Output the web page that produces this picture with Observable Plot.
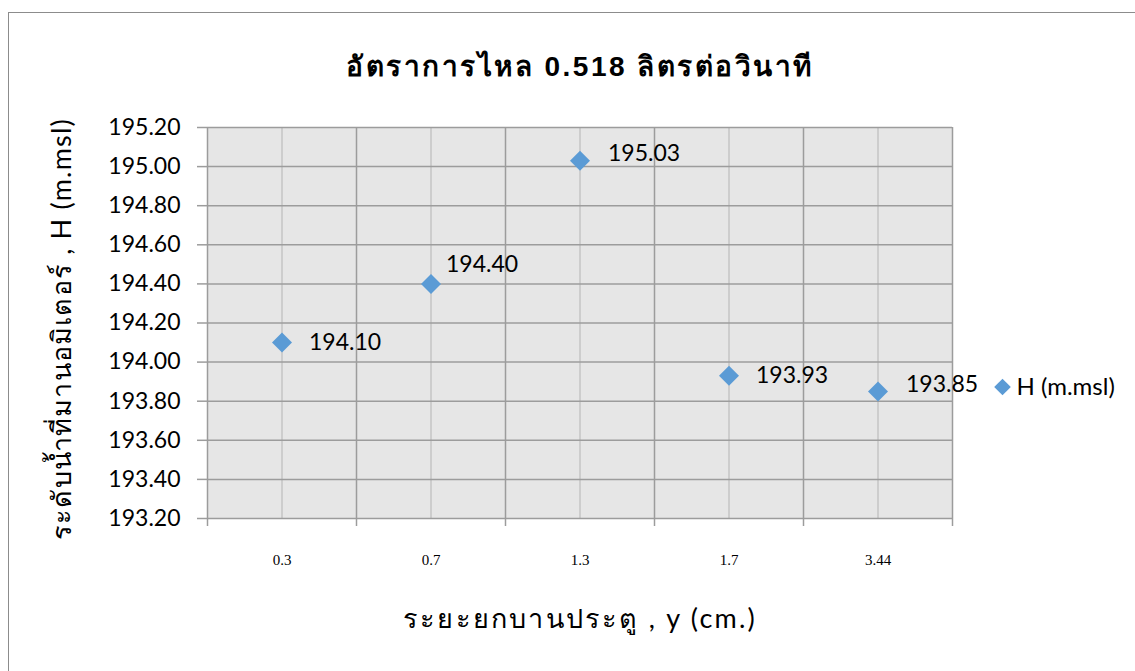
<!DOCTYPE html>
<html><head><meta charset="utf-8">
<script src="https://cdn.jsdelivr.net/npm/d3@7"></script>
<script src="https://cdn.jsdelivr.net/npm/@observablehq/plot@0.6"></script>
<style>
body{margin:0;background:#fff;}
#wrap{position:relative;width:1135px;height:671px;overflow:hidden;}
#frame{position:absolute;left:8px;top:12px;width:1200px;height:700px;border-top:1px solid #8c8c8c;border-left:1px solid #8c8c8c;pointer-events:none;}
#chart{position:absolute;left:0;top:0;}
</style></head>
<body><div id="wrap"><div id="chart"></div><div id="frame"></div></div>
<script>
const categories = ["0.3", "0.7", "1.3", "1.7", "3.44"];
const values = [194.10, 194.40, 195.03, 193.93, 193.85];
const yTicks = [193.2, 193.4, 193.6, 193.8, 194.0, 194.2, 194.4, 194.6, 194.8, 195.0, 195.2];
const titleText = "อัตราการไหล 0.518 ลิตรต่อวินาที";
const xLabel = "ระยะยกบานประตู , y (cm.)";
const yLabel = "ระดับน้ำที่มานอมิเตอร์ , H (m.msl)";
const seriesName = "H (m.msl)";

const rows = categories.map((c, i) => ({cat: c, pos: i + 0.5, value: values[i], label: values[i].toFixed(2)}));
const bounds = d3.range(categories.length + 1);
const centers = rows.map(d => d.pos);
const blue = "#5b9bd5";
const latin = "Lato, 'Open Sans', sans-serif";

const labelText = (filter, dx, dy) => Plot.text(rows.filter(filter), {x: "pos", y: "value", text: "label",
  textAnchor: "start", lineAnchor: "middle", dx, dy, fontSize: 23, fontFamily: latin});

const chart = Plot.plot({
  width: 1135,
  height: 671,
  marginLeft: 207,
  marginRight: 183,
  marginTop: 127,
  marginBottom: 153,
  style: {background: "transparent", color: "#000"},
  x: {type: "linear", domain: [0, categories.length]},
  y: {domain: [193.2, 195.2]},
  marks: [
    Plot.frame({fill: "#e6e6e6", stroke: null}),
    Plot.ruleX(centers, {stroke: "#c4c4c4", strokeWidth: 1.5}),
    Plot.ruleY(yTicks, {stroke: "#9c9c9c", strokeWidth: 1.5}),
    Plot.ruleX(bounds, {stroke: "#9c9c9c", strokeWidth: 1.5}),
    Plot.axisY({ticks: yTicks, tickFormat: d => d.toFixed(2), tickSize: 10, tickPadding: 17,
      stroke: "#9c9c9c", strokeWidth: 1.5, fontSize: 23, fontFamily: latin, label: null}),
    Plot.axisX({ticks: bounds, tickSize: 8, text: null, stroke: "#9c9c9c", strokeWidth: 1.5, label: null}),
    Plot.axisX({ticks: centers, tickSize: 0, tickPadding: 36, tickFormat: p => categories[Math.floor(p)],
      fontFamily: "'Liberation Serif', serif", fontSize: 15, label: null}),
    Plot.dot(rows, {x: "pos", y: "value", symbol: "diamond2", r: 9, fill: blue, stroke: null}),
    labelText((d, i) => i === 0 || i === 3, 27, 0),
    labelText((d, i) => i === 2 || i === 4, 28, -7),
    labelText((d, i) => i === 1, 15, -19),
    Plot.text([titleText], {frameAnchor: "top", lineAnchor: "middle", textAnchor: "middle", dy: -60,
      fontSize: 28, fontWeight: "bold", fontFamily: "sans-serif"}),
    Plot.text([xLabel], {frameAnchor: "bottom", lineAnchor: "middle", textAnchor: "middle", dy: 101,
      fontSize: 27, fontFamily: latin}),
    Plot.text([yLabel], {frameAnchor: "left", lineAnchor: "middle", textAnchor: "middle", rotate: -90,
      dx: -145, dy: 6, fontSize: 27, fontFamily: latin}),
    Plot.dot([seriesName], {frameAnchor: "right", dx: 50, dy: 64, symbol: "diamond2", r: 7.5, fill: blue, stroke: null}),
    Plot.text([seriesName], {frameAnchor: "right", lineAnchor: "middle", dx: 64, dy: 64, textAnchor: "start",
      fontSize: 24, fontFamily: latin})
  ]
});
// widen the Thai texts slightly to match the reference's wider Thai face
chart.querySelectorAll("text").forEach(t => {
  if (t.textContent === titleText) t.style.letterSpacing = "2.5px";
  if (t.textContent === xLabel) t.style.letterSpacing = "2.2px";
  if (t.textContent === yLabel) t.style.letterSpacing = "1.2px";
});
document.getElementById("chart").appendChild(chart);
</script>
</body></html>
